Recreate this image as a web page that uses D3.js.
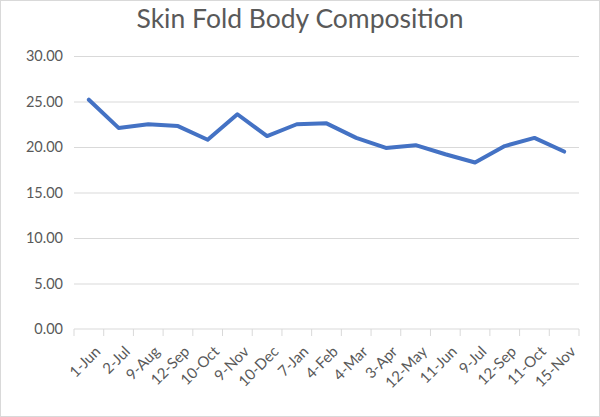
<!DOCTYPE html>
<html><head><meta charset="utf-8">
<script src="https://cdn.jsdelivr.net/npm/d3@7"></script>
<style>body{margin:0;background:#fff}svg{display:block}</style>
</head><body>
<script>
const categories = ["1-Jun","2-Jul","9-Aug","12-Sep","10-Oct","9-Nov","10-Dec","7-Jan","4-Feb","4-Mar","3-Apr","12-May","11-Jun","9-Jul","12-Sep","11-Oct","15-Nov"];
const values = [25.2,22.1,22.5,22.3,20.8,23.6,21.2,22.5,22.6,21.0,19.9,20.2,19.2,18.3,20.1,21.0,19.5];
const yTicks = [0,5,10,15,20,25,30];
const title = "Skin Fold Body Composition";

const W = 600, H = 417;
const m = {left:74, right:21, top:56, bottom:88};
const svg = d3.select("body").append("svg").attr("width",W).attr("height",H);
svg.append("rect").attr("x",0.5).attr("y",0.5).attr("width",W-1).attr("height",H-1)
  .attr("fill","#fff").attr("stroke","#d9d9d9");

const font = "Lato, 'Open Sans', sans-serif";
const x = d3.scaleBand().domain(d3.range(categories.length)).range([m.left, W-m.right]);
const y = d3.scaleLinear().domain([0,30]).range([H-m.bottom, m.top]);

svg.append("text").attr("x",300).attr("y",28).attr("text-anchor","middle")
  .attr("font-family",font).attr("font-size",26.5).attr("fill","#595959").text(title);

const gy = svg.append("g").attr("transform",`translate(${m.left},0)`)
  .call(d3.axisLeft(y).tickValues(yTicks).tickSize(-(W-m.left-m.right)).tickFormat(d3.format(".2f")));
gy.select(".domain").remove();
gy.selectAll(".tick line").attr("stroke","#d9d9d9");
gy.selectAll(".tick").filter(d=>d===0).select("line").remove();
gy.selectAll(".tick text").attr("x",-11).attr("fill","#595959")
  .attr("font-family",font).attr("font-size",14.5);

const gx = svg.append("g").attr("transform",`translate(0,${H-m.bottom})`);
gx.append("line").attr("x1",m.left).attr("x2",W-m.right).attr("stroke","#d9d9d9");
const bounds = d3.range(categories.length+1).map(i=> m.left + i*x.step());
gx.selectAll(".tk").data(bounds).join("line").attr("x1",d=>d).attr("x2",d=>d)
  .attr("y1",0).attr("y2",7).attr("stroke","#d9d9d9");
gx.selectAll(".lbl").data(categories).join("text")
  .attr("transform",(d,i)=>`translate(${x(i)+x.bandwidth()/2+5},${16}) rotate(-45)`)
  .attr("text-anchor","end").attr("dy","0.71em")
  .attr("font-family",font).attr("font-size",15).attr("fill","#595959").text(d=>d);

const line = d3.line().x((d,i)=>x(i)+x.bandwidth()/2).y(d=>y(d));
svg.append("path").datum(values).attr("d",line).attr("fill","none")
  .attr("stroke","#4472C4").attr("stroke-width",4).attr("stroke-linejoin","round").attr("stroke-linecap","round");
</script>
</body></html>
